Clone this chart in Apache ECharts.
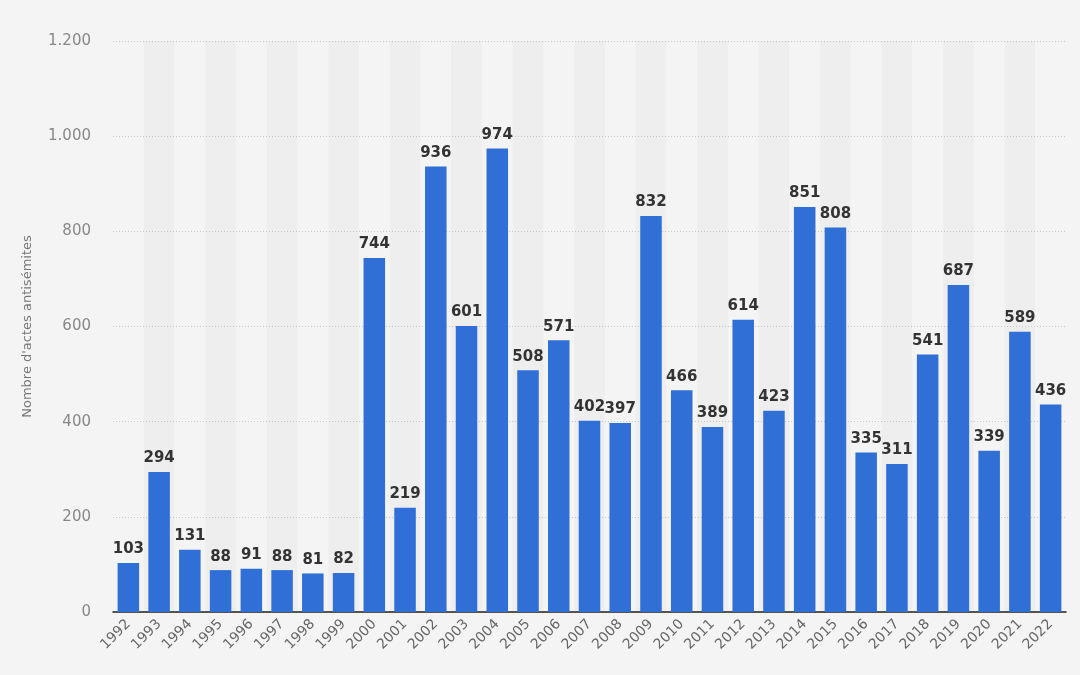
<!DOCTYPE html>
<html><head><meta charset="utf-8">
<script src="https://cdn.jsdelivr.net/npm/echarts@6/dist/echarts.min.js"></script>
<style>html,body{margin:0;padding:0;background:#f4f4f4;}#c{width:1080px;height:675px;}</style>
</head><body><div id="c"></div>
<script>
const years = ['1992','1993','1994','1995','1996','1997','1998','1999','2000','2001','2002','2003','2004','2005','2006','2007','2008','2009','2010','2011','2012','2013','2014','2015','2016','2017','2018','2019','2020','2021','2022'];
const values = [103,294,131,88,91,88,81,82,744,219,936,601,974,508,571,402,397,832,466,389,614,423,851,808,335,311,541,687,339,589,436];
const yTicks = [0,200,400,600,800,1000,1200];
const yTitle = "Nombre d'actes antisémites";

const chart = echarts.init(document.getElementById('c'));
chart.setOption({
  backgroundColor: '#f4f4f4',
  animation: false,
  grid: {left: 113, right: 14, top: 41, bottom: 63},
  xAxis: {
    type: 'category', data: years,
    axisLine: {lineStyle: {color: '#222', width: 1.5}},
    axisTick: {show: false},
    axisLabel: {rotate: 45, color: '#666', fontSize: 14, fontFamily: 'DejaVu Sans', interval: 0, margin: 10},
    splitArea: {show: true, areaStyle: {color: ['rgba(0,0,0,0)', 'rgba(0,0,0,0.022)']}}
  },
  yAxis: {
    type: 'value', min: 0, max: 1200, interval: 200,
    name: yTitle, nameLocation: 'middle', nameGap: 79,
    nameTextStyle: {color: '#777', fontSize: 13, fontFamily: 'DejaVu Sans'},
    axisLine: {show: false}, axisTick: {show: false},
    axisLabel: {color: '#888', fontSize: 15, fontFamily: 'DejaVu Sans', margin: 22,
      formatter: v => yTicks.includes(v) ? String(v).replace(/\B(?=(\d{3})+(?!\d))/g, '.') : ''},
    splitLine: {lineStyle: {color: '#c8c8c8', type: [1, 2], width: 1}}
  },
  series: [{
    type: 'bar', data: values, barWidth: '70%',
    itemStyle: {color: '#2f6fd6'},
    label: {show: true, position: 'top', color: '#333', fontWeight: 'bold', fontSize: 15, fontFamily: 'DejaVu Sans', distance: 6}
  }]
});
</script></body></html>
